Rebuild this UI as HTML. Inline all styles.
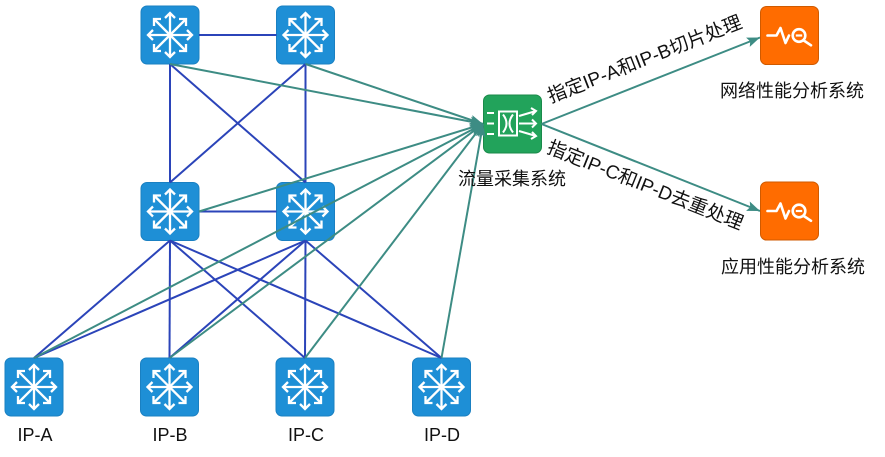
<!DOCTYPE html>
<html><head><meta charset="utf-8"><style>
html,body{margin:0;padding:0;background:#fff;}
svg{display:block;}
text{font-family:"Liberation Sans","Noto Sans CJK SC",sans-serif;font-size:18px;fill:#111;}
</style></head><body>
<svg width="885" height="457" viewBox="0 0 885 457" xmlns="http://www.w3.org/2000/svg">
<defs>
  <marker id="ar" markerUnits="userSpaceOnUse" markerWidth="14" markerHeight="12" refX="13" refY="5" orient="auto">
    <path d="M0,0 L13,5 L0,10 L2.5,5 z" fill="#3d8c84"/>
  </marker>
  <g id="swi" fill="none" stroke="#fff" stroke-width="2.3" stroke-linejoin="miter">
    <line x1="-22" y1="0" x2="22" y2="0"/>
    <line x1="0" y1="-22" x2="0" y2="22"/>
    <line x1="-16" y1="-16" x2="16" y2="16"/>
    <line x1="-16" y1="16" x2="16" y2="-16"/>
    <polyline points="17,-5 22,0 17,5"/>
    <polyline points="-17,-5 -22,0 -17,5"/>
    <polyline points="-5,-17 0,-22 5,-17"/>
    <polyline points="-5,17 0,22 5,17"/>
    <polyline points="16,9 16,16 9,16"/>
    <polyline points="-16,9 -16,16 -9,16"/>
    <polyline points="16,-9 16,-16 9,-16"/>
    <polyline points="-16,-9 -16,-16 -9,-16"/>
  </g>
  <g id="sw">
    <rect x="-29" y="-29" width="58" height="58" rx="6" fill="#1e8fd6" stroke="#1a80c2" stroke-width="1"/>
    <use href="#swi"/>
  </g>
  <g id="og">
    <rect x="0" y="0" width="58" height="58" rx="6" fill="#ff6c00" stroke="#cf5a00" stroke-width="1"/>
    <polyline points="7,29 16,29 20,21.5 25,36.5 28.5,29" fill="none" stroke="#fff" stroke-width="2.6" stroke-linejoin="round" stroke-linecap="round"/>
    <circle cx="38.5" cy="29" r="6.3" fill="none" stroke="#fff" stroke-width="2.6"/>
    <line x1="35.3" y1="29" x2="41.7" y2="29" stroke="#fff" stroke-width="2.2"/>
    <line x1="43.3" y1="34" x2="50.5" y2="38.8" stroke="#fff" stroke-width="2.6" stroke-linecap="round"/>
  </g>
</defs>

<!-- switches -->
<use href="#sw" x="170" y="35"/>
<use href="#sw" x="305.5" y="35"/>
<use href="#sw" x="170" y="211.5"/>
<use href="#sw" x="305.5" y="211.5"/>
<use href="#sw" x="34" y="387"/>
<use href="#sw" x="169.5" y="387"/>
<use href="#sw" x="305" y="387"/>
<use href="#sw" x="441.5" y="387"/>

<!-- blue links -->
<g stroke="#2b44b9" stroke-width="2" fill="none">
  <line x1="199" y1="35" x2="276.5" y2="35"/>
  <line x1="199" y1="211.5" x2="276.5" y2="211.5"/>
  <line x1="170" y1="64" x2="170" y2="182.5"/>
  <line x1="170" y1="64" x2="305.5" y2="182.5"/>
  <line x1="305.5" y1="64" x2="170" y2="182.5"/>
  <line x1="305.5" y1="64" x2="305.5" y2="182.5"/>
  <line x1="170" y1="240.5" x2="34" y2="358"/>
  <line x1="170" y1="240.5" x2="169.5" y2="358"/>
  <line x1="170" y1="240.5" x2="305" y2="358"/>
  <line x1="170" y1="240.5" x2="441.5" y2="358"/>
  <line x1="305.5" y1="240.5" x2="34" y2="358"/>
  <line x1="305.5" y1="240.5" x2="169.5" y2="358"/>
  <line x1="305.5" y1="240.5" x2="305" y2="358"/>
  <line x1="305.5" y1="240.5" x2="441.5" y2="358"/>
</g>

<!-- collector -->
<rect x="483.5" y="95" width="58" height="58" rx="6" fill="#22a35b" stroke="#1a8a4a" stroke-width="1"/>
<g stroke="#fff" stroke-width="2" fill="none" stroke-linecap="butt">
  <line x1="487" y1="113" x2="494" y2="113"/>
  <line x1="487" y1="123.5" x2="494" y2="123.5"/>
  <line x1="487" y1="134" x2="494" y2="134"/>
  <rect x="499" y="111.5" width="18" height="24"/>
  <path d="M503,114.5 Q510,123.5 503,132.5 M513,114.5 Q506,123.5 513,132.5"/>
  <line x1="519" y1="116" x2="536" y2="111"/>
  <polyline points="531,108 536,111 532,115"/>
  <line x1="519" y1="123.5" x2="536" y2="123.5"/>
  <polyline points="532,119.5 536,123.5 532,127.5"/>
  <line x1="519" y1="131" x2="536" y2="136"/>
  <polyline points="532,132 536,136 531,139"/>
</g>

<!-- teal links -->
<g stroke="#3d8c84" stroke-width="2" fill="none" marker-end="url(#ar)">
  <line x1="170" y1="64" x2="483" y2="124"/>
  <line x1="305.5" y1="64" x2="483" y2="124"/>
  <line x1="199" y1="211.5" x2="483" y2="124"/>
  <line x1="34" y1="358" x2="483" y2="124"/>
  <line x1="169.5" y1="358" x2="483" y2="124"/>
  <line x1="305" y1="358" x2="483" y2="124"/>
  <line x1="441.5" y1="358" x2="483" y2="124"/>
  <line x1="541.5" y1="124" x2="760" y2="37.5"/>
  <line x1="541.5" y1="124" x2="760" y2="211"/>
</g>

<!-- outputs -->
<use href="#og" x="760.5" y="6.5"/>
<use href="#og" x="760.5" y="182"/>

<!-- labels -->
<text x="35" y="441" text-anchor="middle">IP-A</text>
<text x="170" y="441" text-anchor="middle">IP-B</text>
<text x="306" y="441" text-anchor="middle">IP-C</text>
<text x="442" y="441" text-anchor="middle">IP-D</text>
<text x="512" y="185" text-anchor="middle">流量采集系统</text>
<text x="792" y="97" text-anchor="middle">网络性能分析系统</text>
<text x="793" y="273" text-anchor="middle">应用性能分析系统</text>
<text x="645" y="60" text-anchor="middle" dominant-baseline="central" style="font-size:19px" transform="rotate(-21.5 645 60)">指定IP-A和IP-B切片处理</text>
<text x="645" y="186" text-anchor="middle" dominant-baseline="central" style="font-size:19px" transform="rotate(21.8 645 186)">指定IP-C和IP-D去重处理</text>
</svg>
</body></html>
